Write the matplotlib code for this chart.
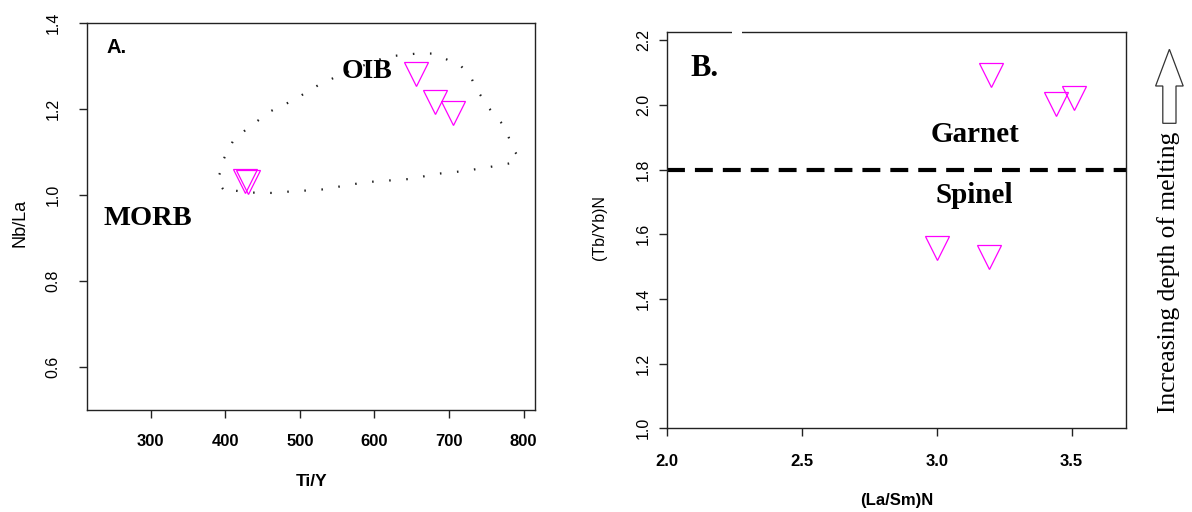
import matplotlib
matplotlib.use("Agg")
import matplotlib.pyplot as plt
from matplotlib.patches import Polygon, Rectangle

_SANS = "Liberation Sans"
_SERIF = "Liberation Serif"
_MAGENTA = "#FF00FF"

# Panel A: Nb/La vs Ti/Y
ti_y = [655.8, 681.2, 705.2, 426.0, 431.0]
nb_la = [1.282, 1.217, 1.190, 1.034, 1.030]

# OIB field outline (dotted)
oib_x = [397, 388.6, 395, 397, 411.6, 427, 459.5, 490.6, 529, 577, 617.5, 657, 677,
         696, 716, 729, 736, 755.5, 774.6, 786, 791.4, 791.4, 785, 763.6, 720.5,
         680.7, 651, 587.8, 529, 484, 465, 433, 397]
oib_y = [1.014, 1.034, 1.060, 1.081, 1.130, 1.151, 1.194, 1.220, 1.260, 1.296, 1.322,
         1.329, 1.329, 1.316, 1.300, 1.276, 1.248, 1.198, 1.159, 1.107, 1.093, 1.081,
         1.075, 1.068, 1.056, 1.049, 1.038, 1.030, 1.013, 1.008, 1.005, 1.006, 1.014]

# Panel B: (Tb/Yb)N vs (La/Sm)N
la_sm = [3.199, 3.441, 3.510, 3.000, 3.192]
tb_yb = [2.092, 2.002, 2.022, 1.557, 1.531]
garnet_spinel_boundary = 1.8

a_xticks = [300, 400, 500, 600, 700, 800]
a_yticks = [0.6, 0.8, 1.0, 1.2, 1.4]
b_xticks = [2.0, 2.5, 3.0, 3.5]
b_yticks = [1.0, 1.2, 1.4, 1.6, 1.8, 2.0, 2.2]

W, H = 1192, 512
fig = plt.figure(figsize=(W / 100, H / 100), dpi=100)


def px_rect(left, top, right, bottom):
    return [left / W, 1 - bottom / H, (right - left) / W, (bottom - top) / H]


def style_axes(ax):
    for s in ax.spines.values():
        s.set_color("#222222")
        s.set_linewidth(1.0)
    ax.tick_params(length=6, width=1.0, color="#222222")
    for lab in ax.get_xticklabels():
        lab.set_fontfamily(_SANS)
        lab.set_fontsize(12)
        lab.set_fontweight("bold")
    for lab in ax.get_yticklabels():
        lab.set_fontfamily(_SANS)
        lab.set_fontsize(11.5)
        lab.set_rotation(90)
        lab.set_va("center")


# ---- Panel A ----
axA = fig.add_axes(px_rect(86.8, 23, 535.4, 410.3))
axA.plot(oib_x, oib_y, color="#222222", lw=1.6, dashes=(0.7, 7.0), zorder=1)
axA.plot(ti_y, nb_la, linestyle="none", marker="v", markersize=17,
         markerfacecolor="none", markeredgecolor=_MAGENTA, markeredgewidth=0.9, zorder=3)
axA.set_xlim(214.3, 815.8)
axA.set_ylim(0.5, 1.4)
axA.set_xticks(a_xticks)
axA.set_xticklabels([str(v) for v in a_xticks])
axA.set_yticks(a_yticks)
axA.set_yticklabels([f"{v:.1f}" for v in a_yticks])
style_axes(axA)
axA.tick_params(axis="x", pad=11)
axA.tick_params(axis="y", pad=13)

axA.set_xlabel("Ti/Y", fontfamily=_SANS, fontsize=12.5, fontweight="bold", va="center")
axA.xaxis.set_label_coords(0.5, -0.184)
axA.set_ylabel("Nb/La", fontfamily=_SANS, fontsize=13, va="center")
axA.yaxis.set_label_coords(-0.150, 0.484)

axA.text(254.5, 1.343, "A.", fontfamily=_SANS, fontsize=14.5, fontweight="bold",
         ha="center", va="center")
axA.text(590, 1.288, "OIB", fontfamily=_SERIF, fontsize=20, fontweight="bold",
         ha="center", va="center")
axA.text(296.6, 0.946, "MORB", fontfamily=_SERIF, fontsize=20.5, fontweight="bold",
         ha="center", va="center")

# ---- Panel B ----
axB = fig.add_axes(px_rect(667.2, 31.7, 1125.6, 428.3))
axB.axhline(garnet_spinel_boundary, color="black", lw=3, dashes=(4.3, 2.4), zorder=1)
axB.plot(la_sm, tb_yb, linestyle="none", marker="v", markersize=17.5,
         markerfacecolor="none", markeredgecolor=_MAGENTA, markeredgewidth=0.9, zorder=3)
axB.set_xlim(2.0, 3.7)
axB.set_ylim(1.0, 2.227)
axB.set_xticks(b_xticks)
axB.set_xticklabels([f"{v:.1f}" for v in b_xticks])
axB.set_yticks(b_yticks)
axB.set_yticklabels([f"{v:.1f}" for v in b_yticks])
style_axes(axB)
axB.tick_params(axis="x", pad=12.5)
axB.tick_params(axis="y", pad=5.5)

axB.set_xlabel("(La/Sm)N", fontfamily=_SANS, fontsize=12, fontweight="bold", va="center")
axB.xaxis.set_label_coords(0.5, -0.183)
axB.set_ylabel("(Tb/Yb)N", fontfamily=_SANS, fontsize=11.5, va="center")
axB.yaxis.set_label_coords(-0.1466, 0.506)

axB.text(2.138, 2.112, "B.", fontfamily=_SERIF, fontsize=22, fontweight="bold",
         ha="center", va="center")
axB.text(3.14, 1.910, "Garnet", fontfamily=_SERIF, fontsize=21, fontweight="bold",
         ha="center", va="center")
axB.text(3.14, 1.720, "Spinel", fontfamily=_SERIF, fontsize=21, fontweight="bold",
         ha="center", va="center")

# small break in the top frame of panel B
fig.patches.append(Rectangle((732 / W, 1 - 35 / H), 10 / W, 6 / H, transform=fig.transFigure,
                             facecolor="white", edgecolor="none", zorder=10))

# "Increasing depth of melting" arrow on the right
cx, tip, base, bot, hw, sw = 1169.4, 49.3, 86.0, 123.3, 13.8, 6.6
arrow_px = [(cx, tip), (cx + hw, base), (cx + sw, base), (cx + sw, bot),
            (cx - sw, bot), (cx - sw, base), (cx - hw, base)]
fig.patches.append(Polygon([(x / W, 1 - y / H) for x, y in arrow_px], closed=True,
                           transform=fig.transFigure, facecolor="white",
                           edgecolor="#333333", lw=0.9))
fig.text(1168.2 / W, 1 - 272.5 / H, "Increasing depth of melting", fontfamily=_SERIF,
         fontsize=18.4, rotation=90, ha="center", va="center")

fig.savefig("out.png", dpi=100)
